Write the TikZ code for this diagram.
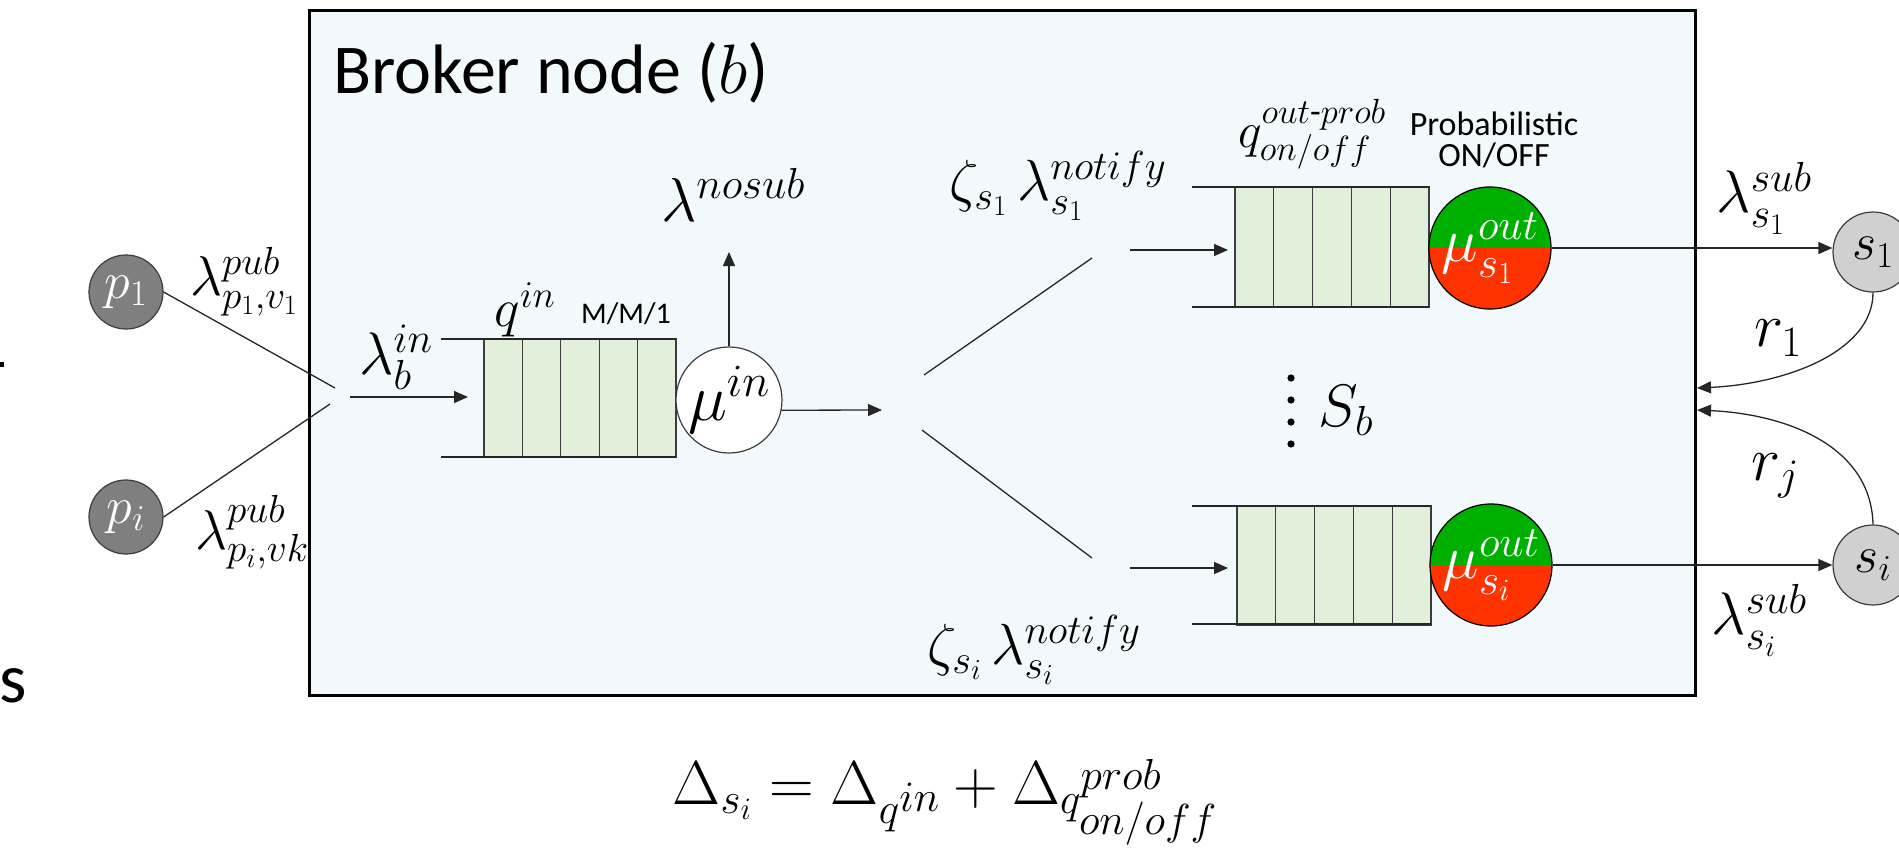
\RequirePackage{fix-cm}
\documentclass[tikz,border=0pt]{standalone}
\usepackage{amsmath}
\usepackage{fontspec}
\setmainfont{Carlito}
\usetikzlibrary{arrows.meta}
\definecolor{boxfill}{RGB}{242,249,253}
\definecolor{qfill}{RGB}{226,239,218}
\definecolor{pgray}{RGB}{127,127,127}
\definecolor{sgray}{RGB}{208,208,208}
\definecolor{ongreen}{RGB}{0,176,0}
\definecolor{offred}{RGB}{255,51,0}
\definecolor{edgec}{RGB}{60,60,60}
\begin{document}
\begin{tikzpicture}[x=1pt,y=-1pt,
  conn/.style={draw=black!85, line width=1.3pt},
  arr/.style={conn, -{Triangle[length=14pt,width=12pt]}},
  lab/.style={inner sep=0pt, font=\fontsize{#1}{#1}\selectfont},
  qcell/.style={draw=edgec, line width=1.2pt, fill=qfill},
  pnode/.style={circle, draw=edgec, line width=1.2pt, fill=pgray, text=white, minimum size=74pt, inner sep=0pt, font=\fontsize{52}{52}\selectfont},
  snode/.style={circle, draw=edgec, line width=1.2pt, fill=sgray, minimum size=80pt, inner sep=0pt, font=\fontsize{52}{52}\selectfont},
  muout/.style={circle, draw=black, line width=1.2pt, minimum size=122pt, inner sep=0pt, text=white, font=\fontsize{62}{62}\selectfont,
    path picture={\fill[ongreen] (path picture bounding box.north west) rectangle (path picture bounding box.east);
                  \fill[offred] (path picture bounding box.west) rectangle (path picture bounding box.south east);}}
]
\useasboundingbox (0,0) rectangle (1899,852);
% broker box
\node[draw=black, line width=3pt, fill=boxfill, minimum width=1386pt, minimum height=685pt, inner sep=0pt, anchor=north west] (broker) at (308,9) {};
\node[anchor=base west, inner sep=0pt, font=\fontsize{70}{70}\selectfont] (title) at (333,93) {Broker node ($b$)};
% left cropped fragments
\node[anchor=base east, inner sep=0pt, font=\fontsize{70}{70}\selectfont] (frag) at (27,702) {rs};
\fill (0,362) rectangle (4,367);
% publishers
\node[pnode] (p1) at (126,292) {$p_1$};
\node[pnode] (pi) at (126,517) {$p_i$};
\node[lab=56] (lpub1) at (244,282) {$\lambda^{pub}_{p_1,v_1}$};
\node[lab=56] (lpubi) at (252,532) {$\lambda^{pub}_{p_i,vk}$};
\coordinate (m1) at (335,388);
\coordinate (m2) at (330,404);
\draw[conn] (p1.east) -- (m1);
\draw[conn] (pi.east) -- (m2);
% input arrow
\coordinate (inA) at (350,397);
\coordinate (inB) at (468,397);
\draw[arr] (inA) -- (inB);
\node[lab=60] (lin) at (396,357) {$\lambda^{in}_{b}$};
% input queue
\foreach \i in {0,...,4} \draw[qcell] ({484+38.4*\i},339) rectangle ({484+38.4*(\i+1)},457);
\draw[conn] (441,339) -- (676,339);
\draw[conn] (441,457) -- (676,457);
\node[lab=54] (qin) at (525,310) {$q^{in}$};
\node[lab=30, anchor=base] (mm1) at (626,323) {M/M/1};
% mu in
\node[circle, draw=edgec, line width=1.2pt, fill=white, minimum size=106pt, inner sep=0pt, lab=66] (muin) at (729,400) {$\mu^{in}$};
\coordinate (nosubA) at (729,252);
\draw[arr] (muin.north) -- (nosubA);
\node[lab=62] (lnosub) at (733,195) {$\lambda^{nosub}$};
\coordinate (outA) at (882,410);
\draw[arr] (muin.-11) -- (outA);
% diagonals
\coordinate (d1a) at (924,375);
\coordinate (d1b) at (1092,258);
\coordinate (d2a) at (922,430);
\coordinate (d2b) at (1092,558);
\draw[conn] (d1a) -- (d1b);
\draw[conn] (d2a) -- (d2b);
\node[lab=58] (ln1) at (1058,186) {$\zeta_{s_1}\,\lambda^{notify}_{s_1}$};
\node[lab=58] (lni) at (1034,650) {$\zeta_{s_i}\,\lambda^{notify}_{s_i}$};
% arrows to output queues
\coordinate (o1A) at (1130,250);
\coordinate (o1B) at (1228,250);
\coordinate (o2A) at (1130,568);
\coordinate (o2B) at (1228,568);
\draw[arr] (o1A) -- (o1B);
\draw[arr] (o2A) -- (o2B);
% output queue 1
\foreach \i in {0,...,4} \draw[qcell] ({1235+38.8*\i},187) rectangle ({1235+38.8*(\i+1)},307);
\draw[conn] (1192,187) -- (1429,187);
\draw[conn] (1192,307) -- (1429,307);
% output queue i
\foreach \i in {0,...,4} \draw[qcell] ({1237+38.8*\i},506) rectangle ({1237+38.8*(\i+1)},625);
\draw[conn] (1192,506) -- (1431,506);
\draw[conn] (1192,624) -- (1431,624);
\node[lab=50] (qout) at (1312,134) {$q^{out\text{-}prob}_{on/off}$};
\node[lab=34, align=center] (prob) at (1494,140) {Probabilistic\\[-3pt]ON/OFF};
% mu out
\node[muout] (muo1) at (1490,248) {$\mu^{out}_{s_1}$};
\node[muout] (muo2) at (1491,565) {$\mu^{out}_{s_i}$};
% S_b
\foreach \yy in {378,400,422,444} \fill (1291,\yy) circle[radius=3.6];
\node[lab=60] (sb) at (1346,410) {$S_b$};
% subscribers
\node[snode] (s1) at (1873,252) {$s_1$};
\node[snode] (si) at (1873,565) {$s_i$};
\draw[arr] (muo1.east) -- (muo1.east -| s1.west);
\draw[arr] (muo2.east) -- (muo2.east -| si.west);
\node[lab=60] (lsub1) at (1764,198) {$\lambda^{sub}_{s_1}$};
\node[lab=60] (lsubi) at (1759,620) {$\lambda^{sub}_{s_i}$};
\coordinate (r1end) at (1697,388);
\coordinate (rjend) at (1697,410);
\draw[arr] (s1.south) .. controls (1873,352) and (1785,384) .. (r1end);
\draw[arr] (si.north) .. controls (1871,445) and (1785,414) .. (rjend);
\node[lab=62] (lr1) at (1778,338) {$r_1$};
\node[lab=62] (lrj) at (1775,476) {$r_j$};
% formula
\node[lab=62, anchor=base] (formula) at (945,804) {$\Delta_{s_i} = \Delta_{q^{\scriptstyle in}} + \Delta_{\smash[t]{q^{\scriptstyle prob}_{\scriptstyle on/off}}}$};
\end{tikzpicture}
\end{document}
